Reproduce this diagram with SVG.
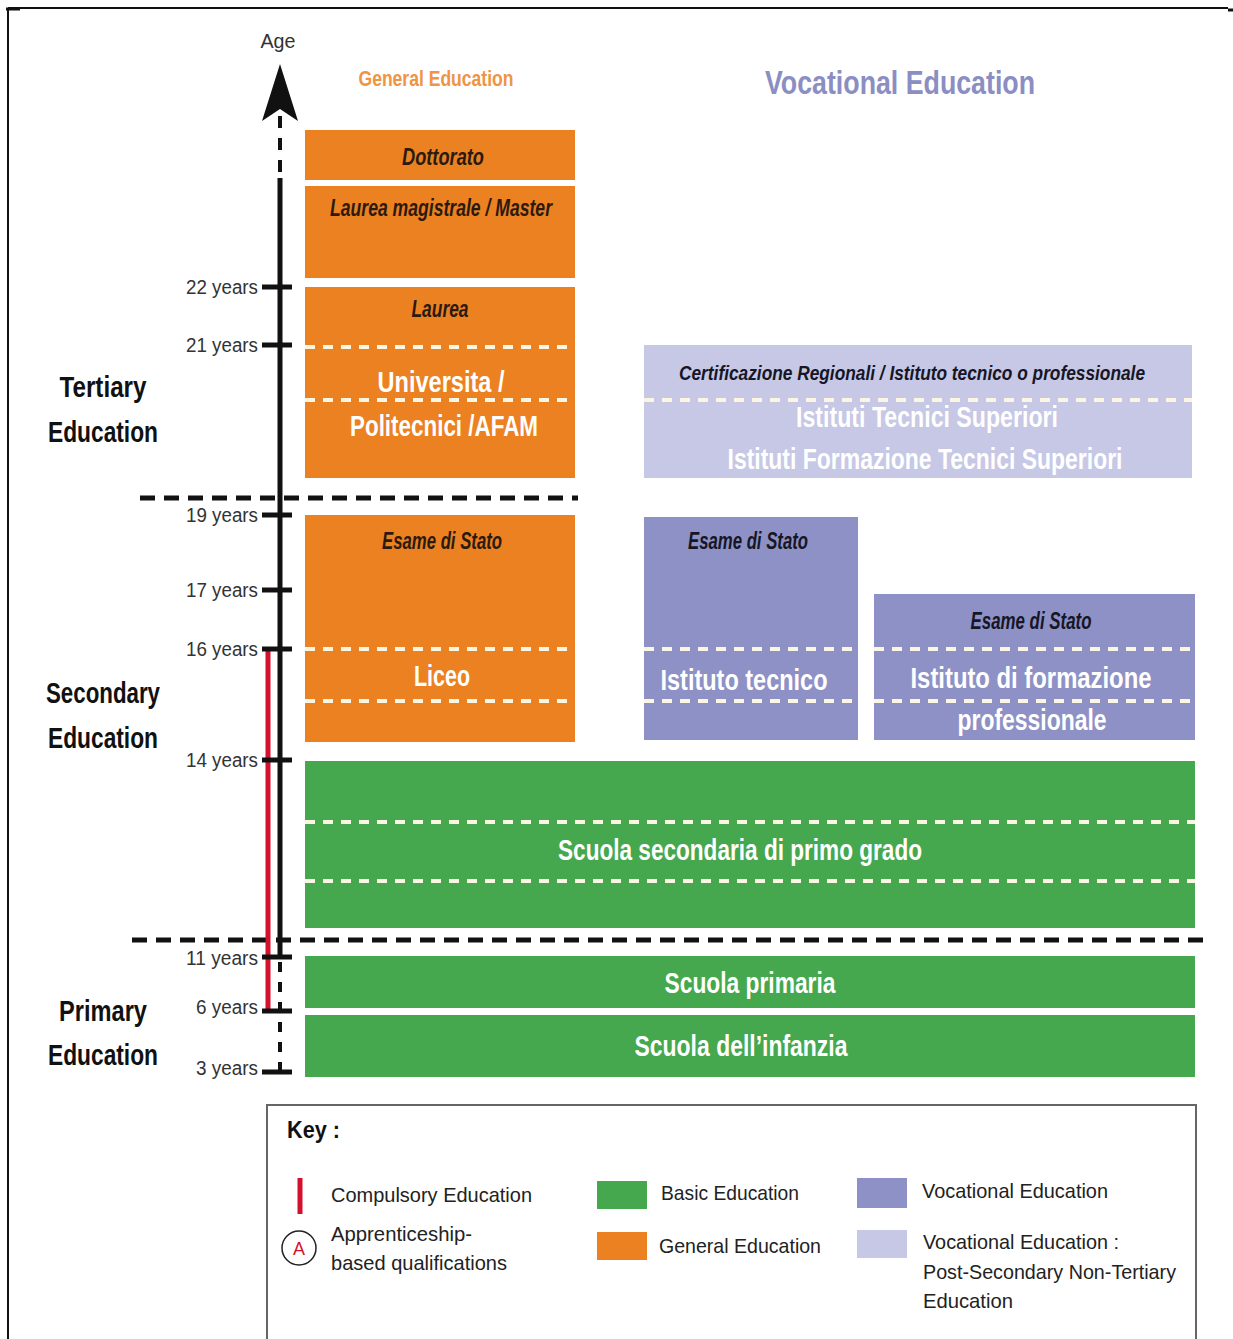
<svg xmlns="http://www.w3.org/2000/svg" width="1233" height="1339" viewBox="0 0 1233 1339">
<style>
text{font-family:"Liberation Sans Narrow","Liberation Sans",Arial,sans-serif}
.or{fill:#ec8121}
.gr{fill:#45a84e}
.vo{fill:#8e91c5}
.lv{fill:#c6c8e5}
.wl{fill:#ffffff;font-size:30px;font-weight:bold;text-anchor:middle}
.it{fill:#2b1a10;font-size:23px;font-weight:bold;font-style:italic;text-anchor:middle}
.itv{fill:#161626;font-size:23px;font-weight:bold;font-style:italic;text-anchor:middle}
.wd{stroke:#fbf6e4;stroke-width:4;stroke-dasharray:10 8;fill:none}
.bd{stroke:#111;stroke-width:5;stroke-dasharray:15 9;fill:none}
.tick{stroke:#111;stroke-width:5}
.age{fill:#333;font-size:20px;text-anchor:end}
.sec{fill:#111;font-size:30px;font-weight:bold;text-anchor:middle}
.key{fill:#222;font-size:21px}
</style>

<g id="frame" fill="none" stroke="#111">
<line x1="8" y1="8" x2="1228" y2="8" stroke-width="2"/>
<line x1="8" y1="8" x2="8" y2="1339" stroke-width="2"/>
<line x1="6" y1="9" x2="20" y2="9" stroke-width="3"/>
<line x1="1228" y1="10" x2="1233" y2="10" stroke-width="3"/>
</g>

<g id="headings">
<text x="436" y="86" fill="#ef9444" font-size="22" font-weight="bold" text-anchor="middle" textLength="155" lengthAdjust="spacingAndGlyphs">General Education</text>
<text x="900" y="94" fill="#8b8ec2" font-size="34" font-weight="bold" text-anchor="middle" textLength="270" lengthAdjust="spacingAndGlyphs">Vocational Education</text>
</g>

<g id="section-labels">
<text class="sec" x="103" y="397" textLength="87" lengthAdjust="spacingAndGlyphs">Tertiary</text>
<text class="sec" x="103" y="442" textLength="110" lengthAdjust="spacingAndGlyphs">Education</text>
<text class="sec" x="103" y="703" textLength="114" lengthAdjust="spacingAndGlyphs">Secondary</text>
<text class="sec" x="103" y="748" textLength="110" lengthAdjust="spacingAndGlyphs">Education</text>
<text class="sec" x="103" y="1021" textLength="88" lengthAdjust="spacingAndGlyphs">Primary</text>
<text class="sec" x="103" y="1065" textLength="110" lengthAdjust="spacingAndGlyphs">Education</text>
</g>

<g id="dottorato">
<rect class="or" x="305" y="130" width="270" height="50"/>
<text class="it" x="443" y="165" textLength="82" lengthAdjust="spacingAndGlyphs">Dottorato</text>
</g>
<g id="laurea-magistrale">
<rect class="or" x="305" y="186" width="270" height="92"/>
<text class="it" x="441" y="216" textLength="222" lengthAdjust="spacingAndGlyphs">Laurea magistrale / Master</text>
</g>
<g id="laurea-universita">
<rect class="or" x="305" y="287" width="270" height="191"/>
<text class="it" x="440" y="317" textLength="57" lengthAdjust="spacingAndGlyphs">Laurea</text>
<line class="wd" x1="305" y1="347" x2="575" y2="347"/>
<line class="wd" x1="305" y1="400" x2="575" y2="400"/>
<text class="wl" x="441" y="392" textLength="127" lengthAdjust="spacingAndGlyphs">Universita /</text>
<text class="wl" x="444" y="436" textLength="188" lengthAdjust="spacingAndGlyphs">Politecnici /AFAM</text>
</g>
<g id="liceo">
<rect class="or" x="305" y="515" width="270" height="227"/>
<text class="it" x="442" y="549" textLength="120" lengthAdjust="spacingAndGlyphs">Esame di Stato</text>
<line class="wd" x1="305" y1="649" x2="575" y2="649"/>
<line class="wd" x1="305" y1="701" x2="575" y2="701"/>
<text class="wl" x="442" y="686" textLength="56" lengthAdjust="spacingAndGlyphs">Liceo</text>
</g>

<g id="istituti-tecnici-superiori">
<rect class="lv" x="644" y="345" width="548" height="133"/>
<text fill="#161626" font-weight="bold" font-style="italic" font-size="15.8" text-anchor="middle" transform="translate(912,380) scale(1,1.33)" x="0" y="0" textLength="466" lengthAdjust="spacingAndGlyphs">Certificazione Regionali  / Istituto tecnico o professionale</text>
<line class="wd" x1="644" y1="400" x2="1192" y2="400"/>
<text class="wl" x="927" y="427" textLength="262" lengthAdjust="spacingAndGlyphs">Istituti Tecnici Superiori</text>
<text fill="#fff" font-weight="bold" font-size="23" text-anchor="middle" transform="translate(925,469) scale(1,1.3)" x="0" y="0" textLength="395" lengthAdjust="spacingAndGlyphs">Istituti Formazione Tecnici Superiori</text>
</g>
<g id="istituto-tecnico">
<rect class="vo" x="644" y="517" width="214" height="223"/>
<text class="itv" x="748" y="549" textLength="120" lengthAdjust="spacingAndGlyphs">Esame di Stato</text>
<line class="wd" x1="644" y1="649" x2="858" y2="649"/>
<line class="wd" x1="644" y1="701" x2="858" y2="701"/>
<text class="wl" x="744" y="690" textLength="167" lengthAdjust="spacingAndGlyphs">Istituto tecnico</text>
</g>
<g id="istituto-formazione-professionale">
<rect class="vo" x="874" y="594" width="321" height="146"/>
<text class="itv" x="1031" y="629" textLength="121" lengthAdjust="spacingAndGlyphs">Esame di Stato</text>
<line class="wd" x1="874" y1="649" x2="1195" y2="649"/>
<line class="wd" x1="874" y1="701" x2="1195" y2="701"/>
<text class="wl" x="1031" y="688" textLength="241" lengthAdjust="spacingAndGlyphs">Istituto di formazione</text>
<text class="wl" x="1032" y="730" textLength="149" lengthAdjust="spacingAndGlyphs">professionale</text>
</g>

<g id="scuola-secondaria">
<rect class="gr" x="305" y="761" width="890" height="167"/>
<line class="wd" x1="305" y1="822" x2="1195" y2="822"/>
<line class="wd" x1="305" y1="881" x2="1195" y2="881"/>
<text class="wl" x="740" y="860" textLength="364" lengthAdjust="spacingAndGlyphs">Scuola secondaria di primo grado</text>
</g>
<g id="scuola-primaria">
<rect class="gr" x="305" y="956" width="890" height="52"/>
<text class="wl" x="750" y="993" textLength="171" lengthAdjust="spacingAndGlyphs">Scuola primaria</text>
</g>
<g id="scuola-infanzia">
<rect class="gr" x="305" y="1015" width="890" height="62"/>
<text class="wl" x="741" y="1056" textLength="213" lengthAdjust="spacingAndGlyphs">Scuola dell’infanzia</text>
</g>

<g id="separators">
<line class="bd" x1="140" y1="498" x2="578" y2="498"/>
<line class="bd" x1="132" y1="940" x2="1205" y2="940"/>
</g>

<g id="connectors">
<line x1="268" y1="649" x2="268" y2="1011" stroke="#d3112f" stroke-width="5"/>
<line x1="280" y1="116" x2="280" y2="180" stroke="#111" stroke-width="4" stroke-dasharray="12 10"/>
<line x1="280" y1="178" x2="280" y2="957" stroke="#111" stroke-width="5"/>
<line x1="280" y1="962" x2="280" y2="1071" stroke="#111" stroke-width="4" stroke-dasharray="10 10"/>
<path d="M280,64 L298,121 L280,109 L262,121 Z" fill="#111"/>
<line class="tick" x1="262" y1="287" x2="292" y2="287"/>
<line class="tick" x1="262" y1="345" x2="292" y2="345"/>
<line class="tick" x1="262" y1="515" x2="292" y2="515"/>
<line class="tick" x1="262" y1="590" x2="292" y2="590"/>
<line class="tick" x1="262" y1="649" x2="292" y2="649"/>
<line class="tick" x1="262" y1="760" x2="292" y2="760"/>
<line class="tick" x1="262" y1="957" x2="292" y2="957"/>
<line class="tick" x1="262" y1="1011" x2="292" y2="1011"/>
<line class="tick" x1="262" y1="1072" x2="292" y2="1072"/>
</g>

<g id="age-labels">
<text x="278" y="48" fill="#333" font-size="20" text-anchor="middle" textLength="35" lengthAdjust="spacingAndGlyphs">Age</text>
<text class="age" x="258" y="294" textLength="72" lengthAdjust="spacingAndGlyphs">22 years</text>
<text class="age" x="258" y="352" textLength="72" lengthAdjust="spacingAndGlyphs">21 years</text>
<text class="age" x="258" y="522" textLength="72" lengthAdjust="spacingAndGlyphs">19 years</text>
<text class="age" x="258" y="597" textLength="72" lengthAdjust="spacingAndGlyphs">17 years</text>
<text class="age" x="258" y="656" textLength="72" lengthAdjust="spacingAndGlyphs">16 years</text>
<text class="age" x="258" y="767" textLength="72" lengthAdjust="spacingAndGlyphs">14 years</text>
<text class="age" x="258" y="965" textLength="72" lengthAdjust="spacingAndGlyphs">11 years</text>
<text class="age" x="258" y="1014" textLength="62" lengthAdjust="spacingAndGlyphs">6 years</text>
<text class="age" x="258" y="1075" textLength="62" lengthAdjust="spacingAndGlyphs">3 years</text>
</g>

<g id="key">
<rect x="267" y="1105" width="929" height="240" fill="#fff" stroke="#666" stroke-width="2"/>
<text x="287" y="1138" fill="#111" font-size="24" font-weight="bold" textLength="53" lengthAdjust="spacingAndGlyphs">Key :</text>
<line x1="300" y1="1178" x2="300" y2="1214" stroke="#d3112f" stroke-width="5"/>
<text class="key" x="331" y="1202" textLength="201" lengthAdjust="spacingAndGlyphs">Compulsory Education</text>
<circle cx="299" cy="1248" r="17" fill="none" stroke="#222" stroke-width="1.5"/>
<text x="299" y="1255" fill="#d3112f" font-size="18" text-anchor="middle">A</text>
<text class="key" x="331" y="1241" textLength="141" lengthAdjust="spacingAndGlyphs">Apprenticeship-</text>
<text class="key" x="331" y="1270" textLength="176" lengthAdjust="spacingAndGlyphs">based qualifications</text>
<rect class="gr" x="597" y="1181" width="50" height="28"/>
<text class="key" x="661" y="1200" textLength="138" lengthAdjust="spacingAndGlyphs">Basic Education</text>
<rect class="or" x="597" y="1232" width="50" height="28"/>
<text class="key" x="659" y="1253" textLength="162" lengthAdjust="spacingAndGlyphs">General Education</text>
<rect class="vo" x="857" y="1178" width="50" height="30"/>
<text class="key" x="922" y="1198" textLength="186" lengthAdjust="spacingAndGlyphs">Vocational Education</text>
<rect class="lv" x="857" y="1230" width="50" height="28"/>
<text class="key" x="923" y="1249" textLength="196" lengthAdjust="spacingAndGlyphs">Vocational Education :</text>
<text class="key" x="923" y="1279" textLength="253" lengthAdjust="spacingAndGlyphs">Post-Secondary Non-Tertiary</text>
<text class="key" x="923" y="1308" textLength="90" lengthAdjust="spacingAndGlyphs">Education</text>
</g>
</svg>
